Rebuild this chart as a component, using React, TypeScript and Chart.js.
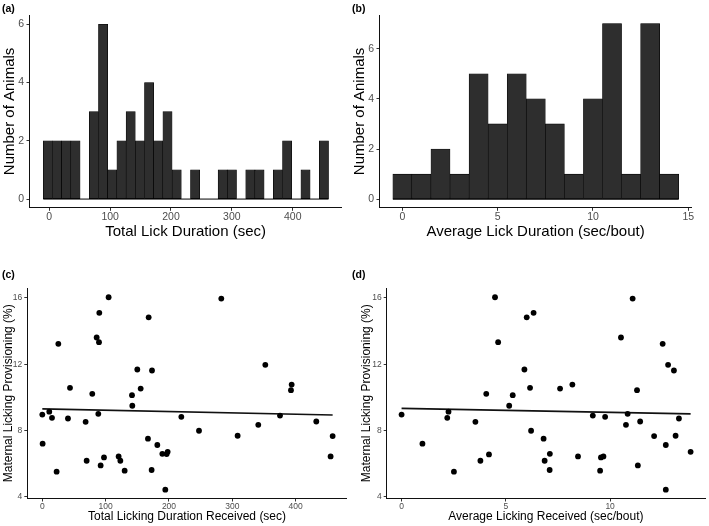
import React, { useEffect, useRef } from 'react';
import { Chart, registerables } from 'chart.js';

Chart.register(...registerables);

const FONT = '"Liberation Sans", Arial, Helvetica, sans-serif';

// ---- Panel (a): histogram of total lick duration ----
const lickBinStart = -9.86;
const lickBinWidth = 15.12;
const lickCounts = [2, 2, 2, 2, 0, 3, 6, 1, 2, 3, 2, 4, 2, 3, 1, 0, 1, 0, 0, 1, 1, 0, 1, 1, 0, 1, 2, 0, 1, 0, 2];
const lickXTicks = [0, 100, 200, 300, 400];
const countYTicksA = [0, 2, 4, 6];

// ---- Panel (b): histogram of average lick duration ----
const avgBinCenters = [0, 1, 2, 3, 4, 5, 6, 7, 8, 9, 10, 11, 12, 13, 14];
const avgBinWidth = 1;
const avgCounts = [1, 1, 2, 1, 5, 3, 5, 4, 3, 1, 4, 7, 1, 7, 1];
const avgXTicks = [0, 5, 10, 15];
const countYTicksB = [0, 2, 4, 6];

// ---- Panel (c): provisioning vs total licking received ----
const totalLickReceived = [
  0, 0.5, 11, 15.3, 22.6, 25.3, 40.5, 43.7, 68.4, 70, 78.9, 85.8, 88.4, 89.5, 90, 92.1, 97.4, 104.7,
  120.5, 123.2, 130, 141.6, 142.1, 150, 155.3, 166.8, 167.9, 172.6, 173.2, 181.6, 189.5, 194.2, 196.3,
  197.9, 219.5, 247.4, 282.6, 308.4, 341, 352.1, 375.3, 392.6, 393.7, 432.6, 455.2, 458.4,
];
const provisioningC = [
  8.96, 7.2, 9.13, 8.76, 5.51, 13.23, 8.72, 10.57, 8.52, 6.17, 10.21, 13.61, 9.0, 13.33, 15.1, 5.89, 6.37, 16.04,
  6.43, 6.17, 5.57, 10.13, 9.49, 11.68, 10.53, 7.5, 14.83, 5.61, 11.62, 7.12, 6.59, 4.42, 6.57,
  6.71, 8.82, 7.98, 15.96, 7.68, 8.34, 11.96, 8.9, 10.43, 10.77, 8.54, 6.43, 7.66,
];
const fitCX = [0, 458.4];
const fitCY = [9.3, 8.93];
const totalXTicks = [0, 100, 200, 300, 400];
const provYTicks = [4, 8, 12, 16];

// ---- Panel (d): provisioning vs average licking received ----
const avgLickReceived = [
  0, 1.0, 2.19, 2.25, 2.51, 3.54, 3.78, 4.06, 4.19, 4.48, 4.63, 5.16, 5.33, 5.89, 6.0, 6.16, 6.21, 6.33,
  6.81, 6.86, 7.11, 7.1, 7.6, 8.19, 8.46, 9.17, 9.52, 9.56, 9.68, 9.76, 10.52, 10.76, 10.84, 11.08,
  11.29, 11.33, 11.44, 12.11, 12.52, 12.67, 12.67, 12.78, 13.06, 13.14, 13.3, 13.86,
];
const provisioningD = [
  8.96, 7.2, 8.76, 9.13, 5.51, 8.52, 6.17, 10.21, 6.55, 16.04, 13.33, 9.49, 10.13, 11.68, 14.83, 10.57, 7.98, 15.1,
  7.5, 6.17, 6.59, 5.61, 10.53, 10.77, 6.43, 8.9, 5.57, 6.37, 6.43, 8.82, 13.61, 8.34, 9.0, 15.96,
  10.43, 5.89, 8.54, 7.66, 13.23, 7.12, 4.42, 11.96, 11.62, 7.68, 8.72, 6.71,
];
const fitDX = [0, 13.86];
const fitDY = [9.33, 9.0];
const avgRecXTicks = [0, 5, 10];

type AxisSpec = {
  min: number;
  max: number;
  ticks: number[];
  title: string;
  titleSize: number;
  titlePad: number;
  tickSize: number;
  tickPad: number;
  box: number;
};

function axis(spec: AxisSpec, horizontal: boolean) {
  return {
    type: 'linear',
    min: spec.min,
    max: spec.max,
    offset: false,
    afterBuildTicks: (s: any) => {
      s.ticks = spec.ticks.map((v) => ({ value: v }));
    },
    afterFit: (s: any) => {
      if (horizontal) s.height = spec.box;
      else s.width = spec.box;
    },
    grid: {
      display: true,
      drawOnChartArea: false,
      drawTicks: true,
      tickLength: 3,
      color: '#333333',
      lineWidth: 1,
      offset: false,
    },
    border: { display: true, color: '#111111', width: 1 },
    ticks: {
      color: '#4d4d4d',
      font: { family: FONT, size: spec.tickSize },
      padding: spec.tickPad,
      maxRotation: 0,
      minRotation: 0,
      autoSkip: false,
    },
    title: {
      display: true,
      text: spec.title,
      color: '#000000',
      font: { family: FONT, size: spec.titleSize },
      padding: horizontal ? { top: 0, bottom: spec.titlePad } : { top: spec.titlePad, bottom: 0 },
    },
  };
}

type PanelProps = {
  left: number;
  top: number;
  width: number;
  height: number;
  build: () => any;
};

function Panel({ left, top, width, height, build }: PanelProps) {
  const ref = useRef<HTMLCanvasElement | null>(null);
  useEffect(() => {
    if (!ref.current) return;
    const chart = new Chart(ref.current, build());
    return () => chart.destroy();
  }, []);
  return (
    <canvas
      ref={ref}
      width={width}
      height={height}
      style={{ position: 'absolute', left, top, width, height }}
    />
  );
}

function histConfig(
  centers: number[],
  counts: number[],
  binWidth: number,
  x: AxisSpec,
  y: AxisSpec,
  padding: any
) {
  const bars = centers.map((c, i) => ({ x: c, y: counts[i] }));
  const first = centers[0] - binWidth / 2;
  const last = centers[centers.length - 1] + binWidth / 2;
  return {
    type: 'bar',
    data: {
      datasets: [
        {
          type: 'line',
          data: [
            { x: first, y: 0 },
            { x: last, y: 0 },
          ],
          borderColor: '#000000',
          borderWidth: 1,
          pointRadius: 0,
          order: 0,
        },
        {
          type: 'bar',
          data: bars,
          backgroundColor: '#2e2e2e',
          borderColor: '#000000',
          borderWidth: 0.6,
          borderSkipped: false,
          barPercentage: 1,
          categoryPercentage: 1,
          order: 1,
        },
      ],
    },
    options: {
      responsive: false,
      animation: false,
      devicePixelRatio: 1,
      layout: { padding },
      plugins: { legend: { display: false }, tooltip: { enabled: false } },
      scales: { x: axis(x, true), y: axis(y, false) },
    },
  };
}

function scatterConfig(
  xs: number[],
  ys: number[],
  fitX: number[],
  fitY: number[],
  x: AxisSpec,
  y: AxisSpec,
  padding: any
) {
  return {
    type: 'scatter',
    data: {
      datasets: [
        {
          data: xs.map((v, i) => ({ x: v, y: ys[i] })),
          backgroundColor: '#000000',
          borderWidth: 0,
          pointRadius: 2.9,
        },
        {
          data: fitX.map((v, i) => ({ x: v, y: fitY[i] })),
          showLine: true,
          borderColor: '#111111',
          borderWidth: 1.6,
          pointRadius: 0,
        },
      ],
    },
    options: {
      responsive: false,
      animation: false,
      devicePixelRatio: 1,
      layout: { padding },
      plugins: { legend: { display: false }, tooltip: { enabled: false } },
      scales: { x: axis(x, true), y: axis(y, false) },
    },
  };
}

const lickCenters = lickCounts.map((_, i) => lickBinStart + lickBinWidth * (i + 0.5));

const labelStyle = (left: number, top: number): React.CSSProperties => ({
  position: 'absolute',
  left,
  top,
  fontFamily: FONT,
  fontWeight: 'bold',
  fontSize: 10.5,
  lineHeight: '12px',
  color: '#000',
});

export default function App() {
  return (
    <div
      style={{
        position: 'absolute',
        left: 0,
        top: 0,
        width: 709,
        height: 526,
        background: '#ffffff',
        overflow: 'hidden',
      }}
    >
      <Panel
        left={0}
        top={0}
        width={354}
        height={250}
        build={() =>
          histConfig(
            lickCenters,
            lickCounts,
            lickBinWidth,
            { min: -32.5, max: 480.5, ticks: lickXTicks, title: 'Total Lick Duration (sec)', titleSize: 15, titlePad: 9.5, tickSize: 10.5, tickPad: 0.5, box: 42.2 },
            { min: -0.3, max: 6.32, ticks: countYTicksA, title: 'Number of Animals', titleSize: 15, titlePad: 1, tickSize: 10.5, tickPad: 2.5, box: 29.5 },
            { left: 0, top: 15, right: 12.3, bottom: 0 }
          )
        }
      />
      <Panel
        left={350}
        top={0}
        width={359}
        height={250}
        build={() =>
          histConfig(
            avgBinCenters,
            avgCounts,
            avgBinWidth,
            { min: -1.2, max: 15.18, ticks: avgXTicks, title: 'Average Lick Duration (sec/bout)', titleSize: 15, titlePad: 9.5, tickSize: 10.5, tickPad: 0.5, box: 42.2 },
            { min: -0.34, max: 7.34, ticks: countYTicksB, title: 'Number of Animals', titleSize: 15, titlePad: 0.5, tickSize: 10.5, tickPad: 2.5, box: 29.5 },
            { left: 0, top: 15, right: 17.3, bottom: 0 }
          )
        }
      />
      <Panel
        left={0}
        top={250}
        width={354}
        height={276}
        build={() =>
          scatterConfig(
            totalLickReceived,
            provisioningC,
            fitCX,
            fitCY,
            { min: -23.7, max: 480.6, ticks: totalXTicks, title: 'Total Licking Duration Received (sec)', titleSize: 12, titlePad: 1.8, tickSize: 8.5, tickPad: 0, box: 27.5 },
            { min: 3.89, max: 16.6, ticks: provYTicks, title: 'Maternal Licking Provisioning (%)', titleSize: 12, titlePad: 1.1, tickSize: 8.5, tickPad: 2, box: 27.3 },
            { left: 0, top: 38, right: 7.3, bottom: 0 }
          )
        }
      />
      <Panel
        left={350}
        top={250}
        width={359}
        height={276}
        build={() =>
          scatterConfig(
            avgLickReceived,
            provisioningD,
            fitDX,
            fitDY,
            { min: -0.714, max: 14.55, ticks: avgRecXTicks, title: 'Average Licking Received (sec/bout)', titleSize: 12, titlePad: 1.8, tickSize: 8.5, tickPad: 0, box: 27.5 },
            { min: 3.89, max: 16.6, ticks: provYTicks, title: 'Maternal Licking Provisioning (%)', titleSize: 12, titlePad: 9.5, tickSize: 8.5, tickPad: 2, box: 36.7 },
            { left: 0, top: 38, right: 1.7, bottom: 0 }
          )
        }
      />
      <div style={labelStyle(2, 1.5)}>(a)</div>
      <div style={labelStyle(352, 1.5)}>(b)</div>
      <div style={labelStyle(2, 268)}>(c)</div>
      <div style={labelStyle(352, 268)}>(d)</div>
    </div>
  );
}
